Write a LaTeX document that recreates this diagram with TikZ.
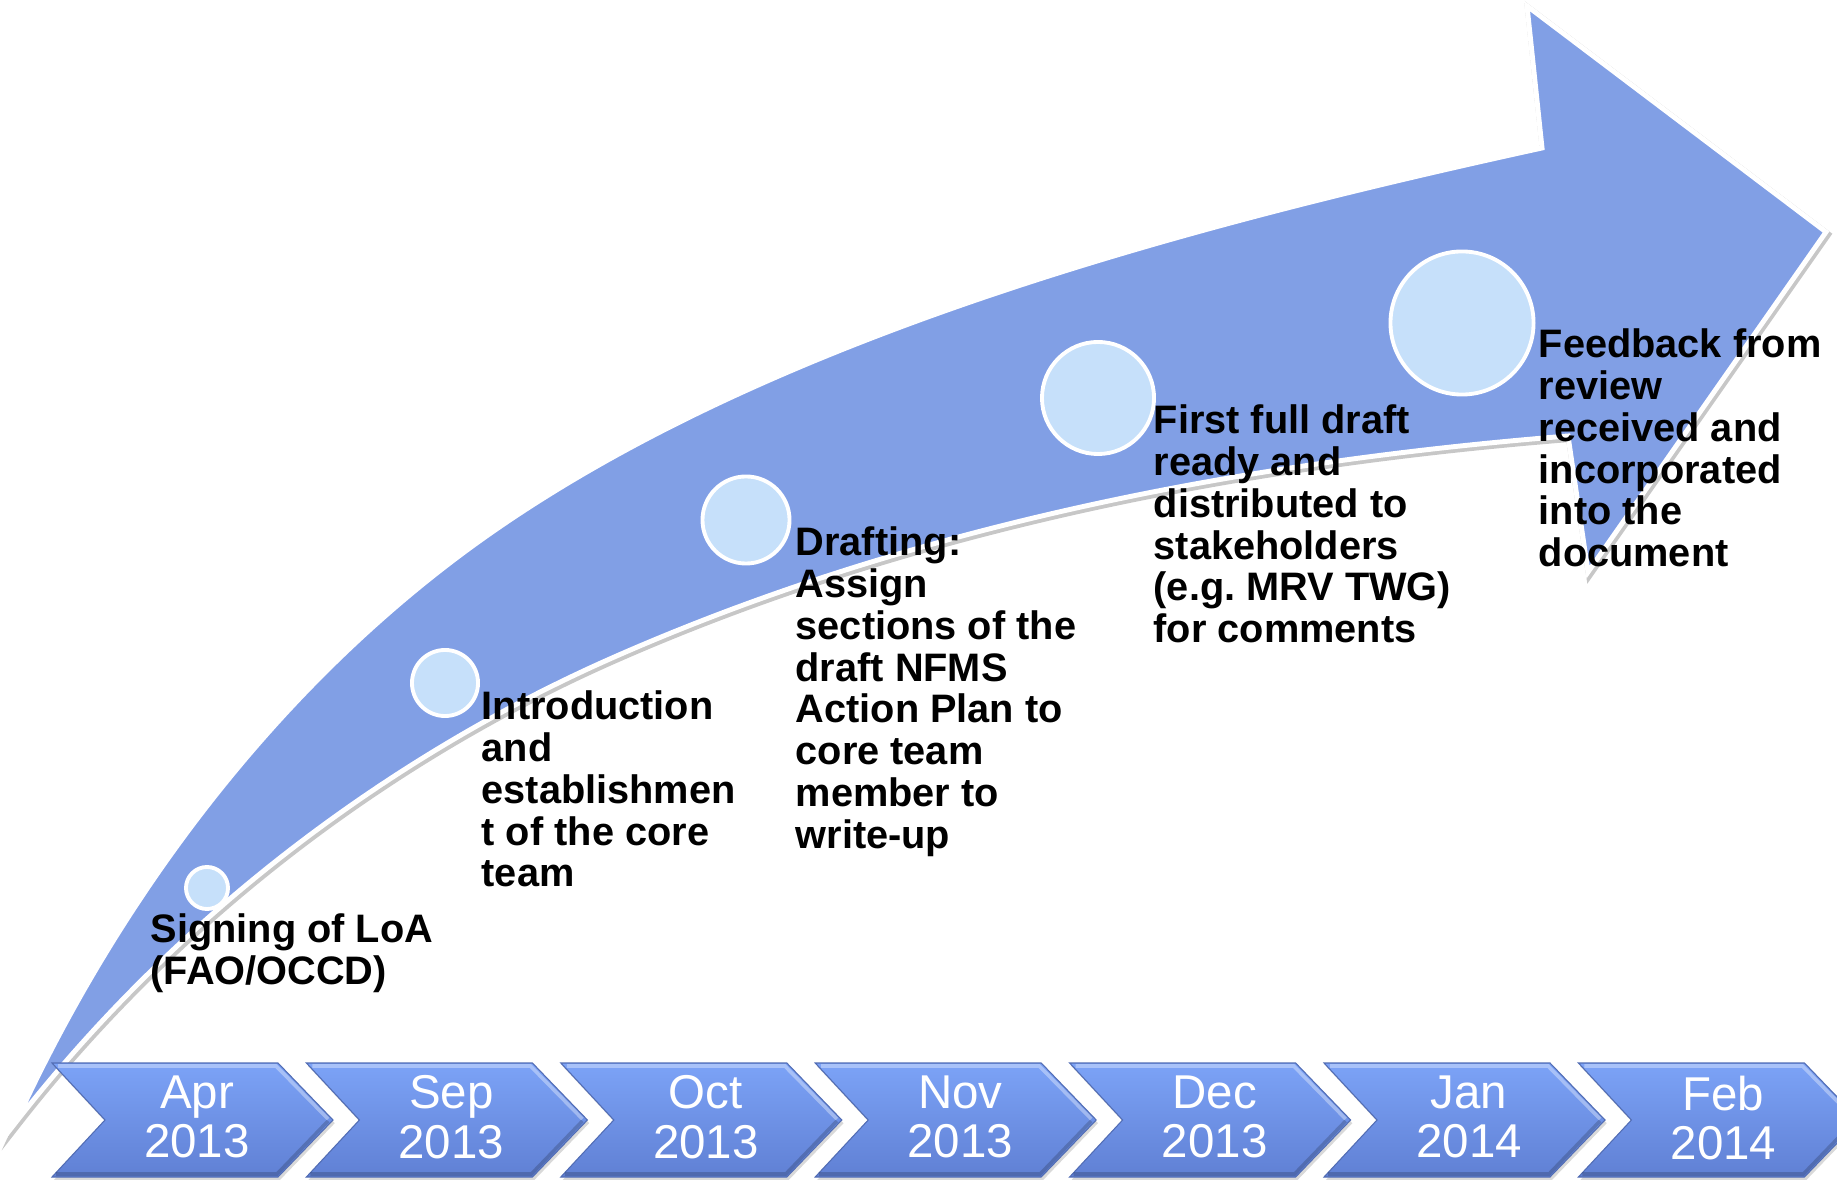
\documentclass[tikz,border=0pt]{standalone}
\usepackage{fontspec}
\setmainfont{Liberation Sans}
\usetikzlibrary{shadows}
\definecolor{arrowblue}{RGB}{129,159,229}
\definecolor{dotblue}{RGB}{198,224,250}
\definecolor{chevtop}{RGB}{124,163,247}
\definecolor{chevbot}{RGB}{96,128,212}
\tikzset{
  dot/.style={circle, draw=white, line width=1.1pt, fill=dotblue, inner sep=0pt},
  note/.style={anchor=north west, inner sep=0pt, align=left, font=\fontsize{11.3}{11.9}\selectfont\bfseries},
  month/.style={anchor=north, inner sep=0pt, align=center, text=white, font=\fontsize{13.5}{14}\selectfont},
  chevron/.style={top color=chevtop, bottom color=chevbot, draw=chevbot!85!black, line width=0.3pt,
    drop shadow={shadow xshift=0.5pt, shadow yshift=-0.9pt, opacity=0.3}}
}
% outline of the big curved arrow
\def\arrowoutline{(16,1122) .. controls (116,904) and (267,700) .. (459,556)
  .. controls (747,340) and (1190,225) .. (1542,148)
  -- (1527,6) -- (1826,232) -- (1588,572) -- (1568,436)
  .. controls (1242,462) and (911,526) .. (612,658)
  .. controls (381,760) and (171,923) .. cycle}

\begin{document}
\begin{tikzpicture}[x=0.01cm, y=-0.01cm]
    \useasboundingbox (0,0) rectangle (1837,1180);
    % arrow
    \path[draw=black!22, line width=2pt, line join=miter, miter limit=25, shift={(1.5,2.5)}] \arrowoutline;
    \path[draw=white, fill=arrowblue, line width=1.4pt, line join=miter, miter limit=25] \arrowoutline;
    % milestones
    \node[dot, minimum size=0.42cm] (p1) at (207,888) {};
    \node[dot, minimum size=0.66cm] (p2) at (445,683) {};
    \node[dot, minimum size=0.87cm] (p3) at (746,520) {};
    \node[dot, minimum size=1.12cm] (p4) at (1098,398) {};
    \node[dot, minimum size=1.43cm] (p5) at (1462,323) {};
    % months
    \foreach \m/\yr [count=\i from 0] in {Apr/2013, Sep/2013, Oct/2013, Nov/2013, Dec/2013, Jan/2014, Feb/2014}{
        \pgfmathsetmacro{\L}{52+254.4*\i}
        \path[chevron] (\L,1063) -- ++(226,0) -- ++(55,57) -- ++(-55,57) -- ++(-226,0) -- ++(53,-57) -- cycle;
        \path[draw=white, opacity=0.35, line width=1pt] (\L+6,1066) -- (\L+224,1066) -- (\L+276,1119);
        \path[draw=black, opacity=0.18, line width=1pt] (\L+276,1121) -- (\L+225,1174) -- (\L+4,1174);
        \node[month] (m\i) at (\L+145,1075) {\m\\\yr};
    }
    % texts
    \node[note] (n1) at (150,913) {Signing of LoA\\(FAO/OCCD)};
    \node[note] (n2) at (481,690) {Introduction\\and\\establishmen\\t of the core\\team};
    \node[note] (n3) at (795,526) {Drafting:\\Assign\\sections of the\\draft NFMS\\Action Plan to\\core team\\member to\\write-up};
    \node[note] (n4) at (1153,404) {First full draft\\ready and\\distributed to\\stakeholders\\(e.g.\ MRV TWG)\\for comments};
    \node[note] (n5) at (1538,328) {Feedback from\\review\\received and\\incorporated\\into the\\document};
\end{tikzpicture}
\end{document}
